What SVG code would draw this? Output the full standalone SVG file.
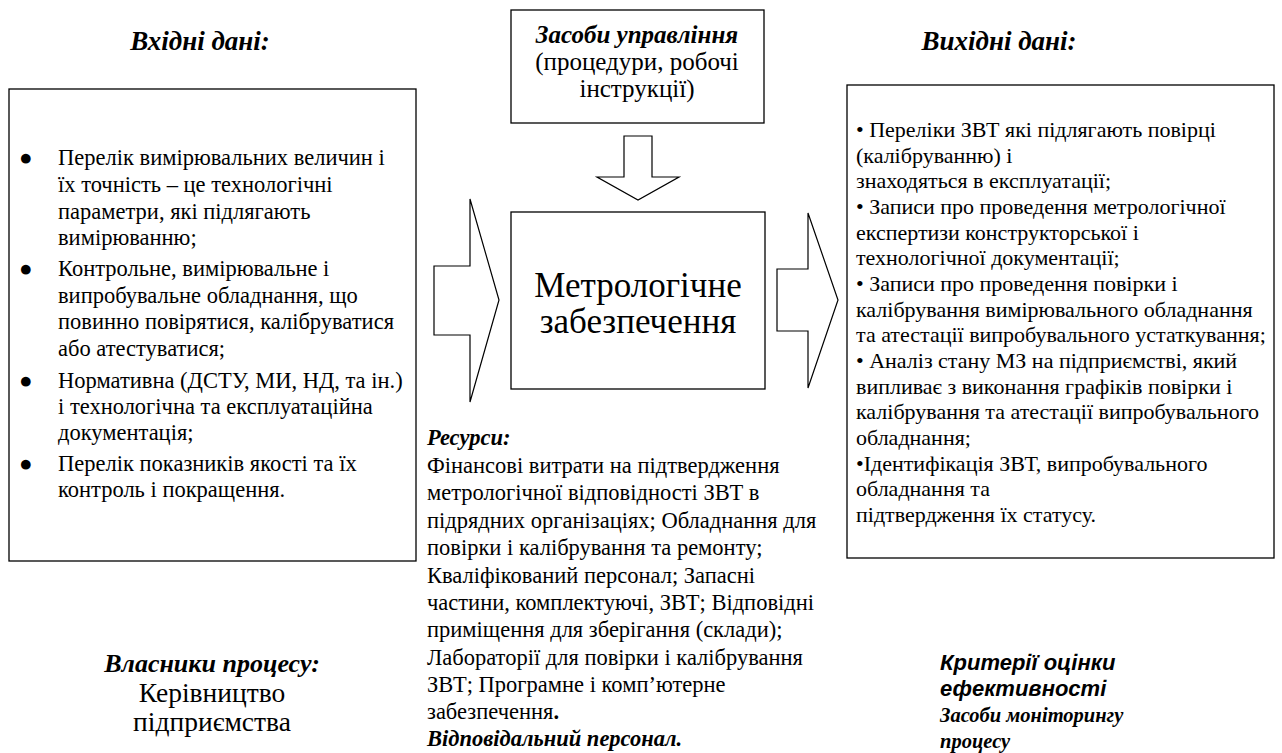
<svg xmlns="http://www.w3.org/2000/svg" width="1282" height="753" viewBox="0 0 1282 753">
<style>
.box{fill:#fff;stroke:#000;stroke-width:1.3}
.arr{fill:#fff;stroke:#000;stroke-width:1.2;stroke-linejoin:miter}
.t{font-family:'Liberation Serif','Times New Roman',serif;fill:#000}
.bi{font-family:'Liberation Serif','Times New Roman',serif;font-weight:bold;font-style:italic;fill:#000}
.si{font-family:'Liberation Sans',Arial,sans-serif;font-weight:bold;font-style:italic;fill:#000}
</style>
<rect width="1282" height="753" fill="#fff"/>

<g id="title-in"><text class="bi" x="200" y="50" font-size="27" text-anchor="middle">Вхідні дані:</text></g>
<g id="title-out"><text class="bi" x="999" y="50" font-size="27" text-anchor="middle">Вихідні дані:</text></g>

<g id="connectors">
<polygon class="arr" points="624,136 652,136 652,177 679,177 638,200 597,177 624,177"/>
<polygon class="arr" points="434,266 470,266 470,199 499,300 470,402 470,335 434,335"/>
<polygon class="arr" points="777,269 808,269 808,213 838,300 808,388 808,331 777,331"/>
</g>

<g id="controls">
<rect class="box" x="511" y="10" width="253" height="113"/>
<text class="bi" x="637" y="43" font-size="25" text-anchor="middle">Засоби управління</text>
<text class="t" x="637" y="70" font-size="25" text-anchor="middle">(процедури, робочі</text>
<text class="t" x="637" y="97" font-size="25" text-anchor="middle">інструкції)</text>
</g>

<g id="process">
<rect class="box" x="511" y="212" width="254" height="177"/>
<text class="t" x="638" y="297" font-size="35" text-anchor="middle">Метрологічне</text>
<text class="t" x="638" y="333" font-size="35" text-anchor="middle">забезпечення</text>
</g>

<g id="inputs">
<rect class="box" x="9" y="89" width="407" height="472"/>
<g class="t" font-size="22.5">
<text x="19" y="165">●</text>
<text x="58" y="165">Перелік вимірювальних величин і</text>
<text x="58" y="192">їх точність – це технологічні</text>
<text x="58" y="219">параметри, які підлягають</text>
<text x="58" y="245">вимірюванню;</text>
<text x="19" y="276">●</text>
<text x="58" y="276">Контрольне, вимірювальне і</text>
<text x="58" y="303">випробувальне обладнання, що</text>
<text x="58" y="329">повинно повірятися, калібруватися</text>
<text x="58" y="356">або атестуватися;</text>
<text x="19" y="388">●</text>
<text x="58" y="388">Нормативна (ДСТУ, МИ, НД, та ін.)</text>
<text x="58" y="414">і технологічна та експлуатаційна</text>
<text x="58" y="440">документація;</text>
<text x="19" y="471">●</text>
<text x="58" y="471">Перелік показників якості та їх</text>
<text x="58" y="497">контроль і покращення.</text>
</g>
</g>

<g id="outputs">
<rect class="box" x="847" y="85" width="427" height="473"/>
<g class="t" font-size="22">
<text x="856" y="137">• Переліки ЗВТ які підлягають повірці</text>
<text x="856" y="162.7">(калібруванню) і</text>
<text x="856" y="188.3">знаходяться в експлуатації;</text>
<text x="856" y="214">• Записи про проведення метрологічної</text>
<text x="856" y="239.7">експертизи конструкторської і</text>
<text x="856" y="265.3">технологічної документації;</text>
<text x="856" y="291">• Записи про проведення повірки і</text>
<text x="856" y="316.7">калібрування вимірювального обладнання</text>
<text x="856" y="342.3">та атестації випробувального устаткування;</text>
<text x="856" y="368">• Аналіз стану МЗ на підприємстві, який</text>
<text x="856" y="393.7">випливає з виконання графіків повірки і</text>
<text x="856" y="419.3">калібрування та атестації випробувального</text>
<text x="856" y="445">обладнання;</text>
<text x="856" y="470.7">•Ідентифікація ЗВТ, випробувального</text>
<text x="856" y="496.3">обладнання та</text>
<text x="856" y="522">підтвердження їх статусу.</text>
</g>
</g>

<g id="resources" font-size="22.5">
<text class="bi" x="427" y="445">Ресурси:</text>
<text class="t" x="427" y="472.5">Фінансові витрати на підтвердження</text>
<text class="t" x="427" y="500">метрологічної відповідності ЗВТ в</text>
<text class="t" x="427" y="527.5">підрядних організаціях; Обладнання для</text>
<text class="t" x="427" y="555">повірки і калібрування та ремонту;</text>
<text class="t" x="427" y="582.5">Кваліфікований персонал; Запасні</text>
<text class="t" x="427" y="610">частини, комплектуючі, ЗВТ; Відповідні</text>
<text class="t" x="427" y="637">приміщення для зберігання (склади);</text>
<text class="t" x="427" y="664.5">Лабораторії для повірки і калібрування</text>
<text class="t" x="427" y="692">ЗВТ; Програмне і комп’ютерне</text>
<text class="t" x="427" y="719">забезпечення<tspan font-weight="bold">.</tspan></text>
<text class="bi" x="427" y="746">Відповідальний персонал.</text>
</g>

<g id="owners">
<text class="bi" x="212" y="672" font-size="26" text-anchor="middle">Власники процесу:</text>
<text class="t" x="212" y="702" font-size="27.5" text-anchor="middle">Керівництво</text>
<text class="t" x="212" y="731" font-size="27.5" text-anchor="middle">підприємства</text>
</g>

<g id="criteria">
<text class="si" x="940" y="670" font-size="22">Критерії оцінки</text>
<text class="si" x="940" y="696" font-size="22">ефективності</text>
<text class="bi" x="940" y="722" font-size="20.5">Засоби моніторингу</text>
<text class="bi" x="940" y="748" font-size="20.5">процесу</text>
</g>
</svg>
